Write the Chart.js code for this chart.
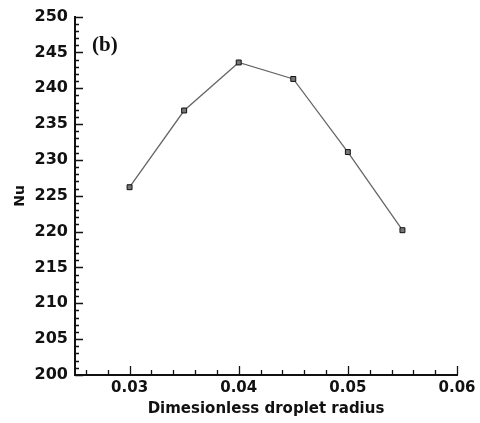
<!DOCTYPE html>
<html>
<head>
<meta charset="utf-8">
<script src="https://cdn.jsdelivr.net/npm/chart.js@4.4.1/dist/chart.umd.min.js"></script>
<style>
  body { margin: 0; background: #fff; }
  canvas { display: block; }
</style>
</head>
<body>
<canvas id="nuChart" width="480" height="423"></canvas>
<script>
// values
var radiusValues = [0.030, 0.035, 0.040, 0.045, 0.050, 0.055];
var nuValues = [226.2, 236.9, 243.6, 241.3, 231.1, 220.2];
var xTickLabels = [0.03, 0.04, 0.05, 0.06];
var yTickLabels = [200, 205, 210, 215, 220, 225, 230, 235, 240, 245, 250];

// inward major/minor ticks, like the original plot
var inwardTicks = {
  id: 'inwardTicks',
  afterDraw: function (chart) {
    var ctx = chart.ctx;
    var xs = chart.scales.x;
    var ys = chart.scales.y;
    var area = chart.chartArea;
    ctx.save();
    ctx.strokeStyle = '#111';
    ctx.lineWidth = 1.3;
    ctx.beginPath();
    for (var i = 0; i <= 50; i++) {
      var v = 200 + i;
      var py = Math.round(ys.getPixelForValue(v)) + 0.5;
      var len = (v % 5 === 0) ? 8 : 4;
      ctx.moveTo(area.left, py);
      ctx.lineTo(area.left + len, py);
    }
    for (var j = 13; j <= 30; j++) {
      var xv = j * 0.002;
      var px = Math.round(xs.getPixelForValue(xv)) + 0.5;
      var major = (j % 5 === 0);
      ctx.moveTo(px, area.bottom);
      ctx.lineTo(px, area.bottom - (major ? 9 : 5));
    }
    ctx.stroke();

    // panel tag
    ctx.fillStyle = '#111';
    ctx.font = 'bold 21px "Liberation Serif"';
    ctx.textBaseline = 'middle';
    ctx.fillText('(b)', 92, 46);
    ctx.restore();
  }
};

new Chart(document.getElementById('nuChart'), {
  type: 'line',
  data: {
    datasets: [{
      label: 'Nu',
      data: radiusValues.map(function (r, i) { return { x: r, y: nuValues[i] }; }),
      borderColor: '#666',
      borderWidth: 1.3,
      pointStyle: 'rect',
      pointRadius: 3.5,
      pointBackgroundColor: '#777',
      pointBorderColor: '#111',
      pointBorderWidth: 1,
      tension: 0
    }]
  },
  options: {
    responsive: false,
    animation: false,
    layout: { padding: { top: 16, right: 23, left: 0, bottom: 0 } },
    plugins: {
      legend: { display: false },
      tooltip: { enabled: false }
    },
    scales: {
      x: {
        type: 'linear',
        min: 0.025,
        max: 0.06,
        afterBuildTicks: function (scale) {
          scale.ticks = xTickLabels.map(function (v) { return { value: v }; });
        },
        afterFit: function (scale) { scale.height = 48; },
        grid: { display: false, drawTicks: false },
        border: { display: true, color: '#111', width: 2 },
        ticks: {
          color: '#111',
          font: { family: 'DejaVu Sans', size: 15, weight: 'bold' },
          padding: 4,
          maxRotation: 0,
          callback: function (v) { return v.toFixed(2); }
        },
        title: {
          display: true,
          text: 'Dimesionless droplet radius',
          color: '#111',
          font: { family: 'DejaVu Sans', size: 15, weight: 'bold' },
          padding: { top: 0, bottom: 5 }
        }
      },
      y: {
        min: 200,
        max: 250,
        afterBuildTicks: function (scale) {
          scale.ticks = yTickLabels.map(function (v) { return { value: v }; });
        },
        afterFit: function (scale) { scale.width = 75; },
        grid: { display: false, drawTicks: false },
        border: { display: true, color: '#111', width: 2 },
        ticks: {
          color: '#111',
          font: { family: 'DejaVu Sans', size: 16, weight: 'bold' },
          padding: 7
        },
        title: {
          display: true,
          text: 'Nu',
          color: '#111',
          font: { family: 'DejaVu Sans', size: 14, weight: 'bold' },
          padding: { top: 12, bottom: 0 }
        }
      }
    }
  },
  plugins: [inwardTicks]
});
</script>
</body>
</html>
